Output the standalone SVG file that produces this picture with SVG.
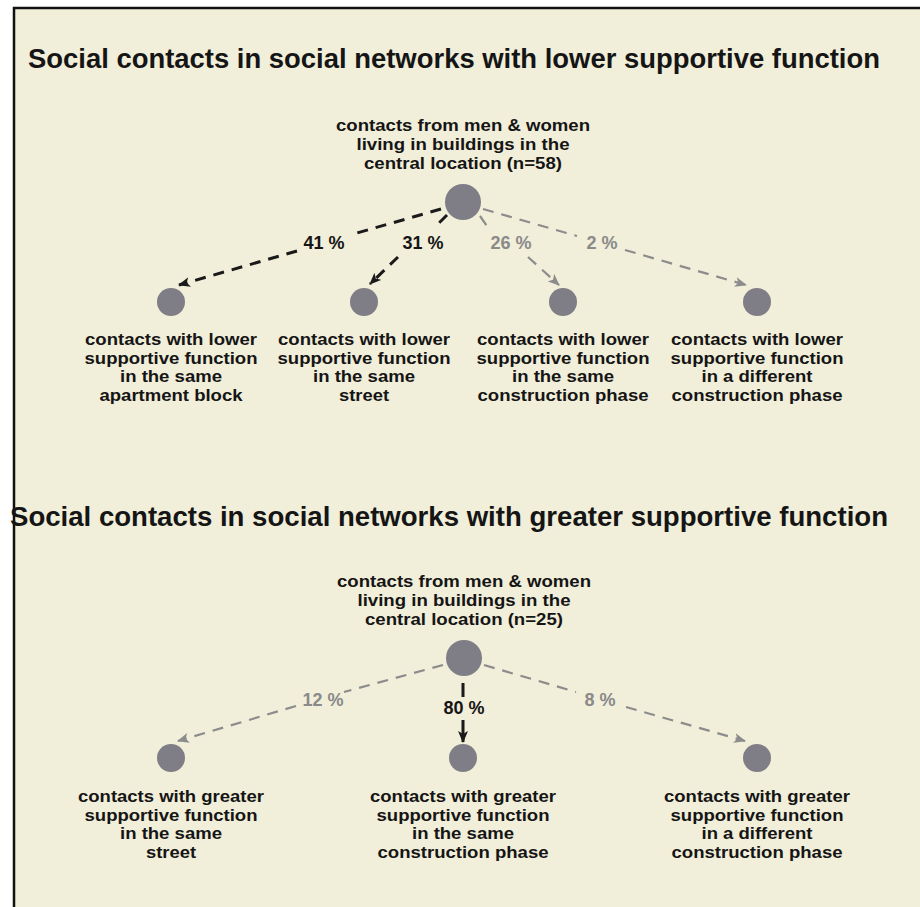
<svg xmlns="http://www.w3.org/2000/svg" width="920" height="907" viewBox="0 0 920 907">
<defs>
<style>
text{font-family:"Liberation Sans",Arial,sans-serif;font-weight:bold;text-anchor:middle;fill:#151515}
.title{font-size:27.5px}
.lbl{font-size:16px}
.rl{font-size:16.5px}
.pct{font-size:18px}
.pg{fill:#8a8a8a}
.node{fill:#7f7e86}
.dk{stroke:#1a1a1a;stroke-width:3;stroke-dasharray:11 8;fill:none}
.gr{stroke:#8c8c8c;stroke-width:2.2;stroke-dasharray:11 8;fill:none}
.solid{stroke:#1a1a1a;stroke-width:3;fill:none}
</style>
<marker id="ak" viewBox="0 0 12 10" refX="11" refY="5" markerWidth="12" markerHeight="10" markerUnits="userSpaceOnUse" orient="auto">
<path d="M0,0 L12,5 L0,10 L3,5 z" fill="#1a1a1a"/>
</marker>
<marker id="ag" viewBox="0 0 12 10" refX="11" refY="5" markerWidth="12" markerHeight="10" markerUnits="userSpaceOnUse" orient="auto">
<path d="M0,0 L12,5 L0,10 L3,5 z" fill="#8c8c8c"/>
</marker>
</defs>
<rect x="0" y="0" width="920" height="907" fill="#ffffff"/>
<rect x="14" y="8" width="906" height="899" fill="#f1eed9"/>
<path d="M14,907 V8 H920" stroke="#111" stroke-width="2.5" fill="none"/>

<text class="title" x="454" y="68" textLength="852" lengthAdjust="spacingAndGlyphs">Social contacts in social networks with lower supportive function</text>
<text class="title" x="449" y="526" textLength="878" lengthAdjust="spacingAndGlyphs">Social contacts in social networks with greater supportive function</text>

<g id="connectors">
<line class="dk" x1="441" y1="209" x2="350" y2="235"/>
<line class="dk" x1="297" y1="251" x2="179" y2="285" marker-end="url(#ak)"/>
<line class="dk" x1="447" y1="215" x2="436" y2="226"/>
<line class="dk" x1="398" y1="257" x2="370" y2="284" marker-end="url(#ak)"/>
<line class="gr" x1="480" y1="216" x2="487" y2="226"/>
<line class="gr" x1="528" y1="257" x2="559" y2="285" marker-end="url(#ag)"/>
<line class="gr" x1="483" y1="209" x2="577" y2="236"/>
<line class="gr" x1="625" y1="250" x2="746" y2="285" marker-end="url(#ag)"/>
<line class="gr" x1="443" y1="665" x2="344" y2="692"/>
<line class="gr" x1="296" y1="706" x2="178" y2="741" marker-end="url(#ag)"/>
<line class="gr" x1="484" y1="665" x2="576" y2="692"/>
<line class="gr" x1="626" y1="707" x2="745" y2="741" marker-end="url(#ag)"/>
<line class="solid" x1="463" y1="683" x2="463" y2="697"/>
<line class="solid" x1="463" y1="720" x2="463" y2="742" marker-end="url(#ak)"/>
<text class="pct" x="324" y="249">41 %</text>
<text class="pct" x="423" y="249">31 %</text>
<text class="pct pg" x="511" y="249">26 %</text>
<text class="pct pg" x="602" y="249">2 %</text>
<text class="pct pg" x="323" y="706">12 %</text>
<text class="pct" x="464" y="714">80 %</text>
<text class="pct pg" x="600" y="706">8 %</text>
</g>

<g id="root1">
<circle class="node" cx="463" cy="202" r="18"/>
<text class="rl" x="463" y="131" textLength="254" lengthAdjust="spacingAndGlyphs">contacts from men &amp; women</text>
<text class="rl" x="463" y="150" textLength="213" lengthAdjust="spacingAndGlyphs">living in buildings in the</text>
<text class="rl" x="463" y="169" textLength="198" lengthAdjust="spacingAndGlyphs">central location (n=58)</text>
</g>
<g id="low1">
<circle class="node" cx="171" cy="302" r="14"/>
<text class="lbl" x="171" y="345" textLength="172" lengthAdjust="spacingAndGlyphs">contacts with lower</text>
<text class="lbl" x="171" y="363.5" textLength="173" lengthAdjust="spacingAndGlyphs">supportive function</text>
<text class="lbl" x="171" y="382" textLength="102" lengthAdjust="spacingAndGlyphs">in the same</text>
<text class="lbl" x="171" y="400.5" textLength="143" lengthAdjust="spacingAndGlyphs">apartment block</text>
</g>
<g id="low2">
<circle class="node" cx="364" cy="302" r="14"/>
<text class="lbl" x="364" y="345" textLength="172" lengthAdjust="spacingAndGlyphs">contacts with lower</text>
<text class="lbl" x="364" y="363.5" textLength="173" lengthAdjust="spacingAndGlyphs">supportive function</text>
<text class="lbl" x="364" y="382" textLength="102" lengthAdjust="spacingAndGlyphs">in the same</text>
<text class="lbl" x="364" y="400.5" textLength="50" lengthAdjust="spacingAndGlyphs">street</text>
</g>
<g id="low3">
<circle class="node" cx="563" cy="302" r="14"/>
<text class="lbl" x="563" y="345" textLength="172" lengthAdjust="spacingAndGlyphs">contacts with lower</text>
<text class="lbl" x="563" y="363.5" textLength="173" lengthAdjust="spacingAndGlyphs">supportive function</text>
<text class="lbl" x="563" y="382" textLength="102" lengthAdjust="spacingAndGlyphs">in the same</text>
<text class="lbl" x="563" y="400.5" textLength="171" lengthAdjust="spacingAndGlyphs">construction phase</text>
</g>
<g id="low4">
<circle class="node" cx="757" cy="302" r="14"/>
<text class="lbl" x="757" y="345" textLength="172" lengthAdjust="spacingAndGlyphs">contacts with lower</text>
<text class="lbl" x="757" y="363.5" textLength="173" lengthAdjust="spacingAndGlyphs">supportive function</text>
<text class="lbl" x="757" y="382" textLength="111" lengthAdjust="spacingAndGlyphs">in a different</text>
<text class="lbl" x="757" y="400.5" textLength="171" lengthAdjust="spacingAndGlyphs">construction phase</text>
</g>

<g id="root2">
<circle class="node" cx="464" cy="658" r="18"/>
<text class="rl" x="464" y="587" textLength="254" lengthAdjust="spacingAndGlyphs">contacts from men &amp; women</text>
<text class="rl" x="464" y="606" textLength="213" lengthAdjust="spacingAndGlyphs">living in buildings in the</text>
<text class="rl" x="464" y="625" textLength="198" lengthAdjust="spacingAndGlyphs">central location (n=25)</text>
</g>
<g id="great1">
<circle class="node" cx="171" cy="758" r="14"/>
<text class="lbl" x="171" y="802" textLength="186" lengthAdjust="spacingAndGlyphs">contacts with greater</text>
<text class="lbl" x="171" y="820.5" textLength="173" lengthAdjust="spacingAndGlyphs">supportive function</text>
<text class="lbl" x="171" y="839" textLength="102" lengthAdjust="spacingAndGlyphs">in the same</text>
<text class="lbl" x="171" y="857.5" textLength="50" lengthAdjust="spacingAndGlyphs">street</text>
</g>
<g id="great2">
<circle class="node" cx="463" cy="758" r="14"/>
<text class="lbl" x="463" y="802" textLength="186" lengthAdjust="spacingAndGlyphs">contacts with greater</text>
<text class="lbl" x="463" y="820.5" textLength="173" lengthAdjust="spacingAndGlyphs">supportive function</text>
<text class="lbl" x="463" y="839" textLength="102" lengthAdjust="spacingAndGlyphs">in the same</text>
<text class="lbl" x="463" y="857.5" textLength="171" lengthAdjust="spacingAndGlyphs">construction phase</text>
</g>
<g id="great3">
<circle class="node" cx="757" cy="758" r="14"/>
<text class="lbl" x="757" y="802" textLength="186" lengthAdjust="spacingAndGlyphs">contacts with greater</text>
<text class="lbl" x="757" y="820.5" textLength="173" lengthAdjust="spacingAndGlyphs">supportive function</text>
<text class="lbl" x="757" y="839" textLength="111" lengthAdjust="spacingAndGlyphs">in a different</text>
<text class="lbl" x="757" y="857.5" textLength="171" lengthAdjust="spacingAndGlyphs">construction phase</text>
</g>
</svg>
